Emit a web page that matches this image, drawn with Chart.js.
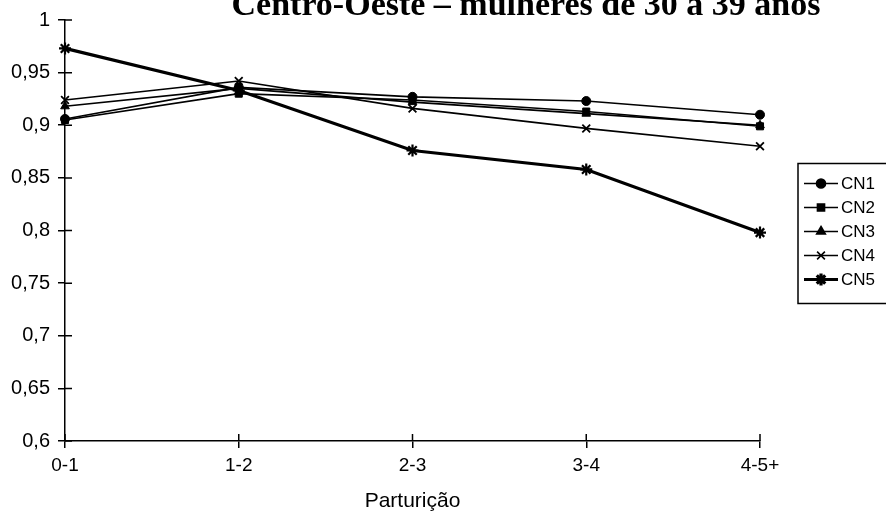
<!DOCTYPE html>
<html>
<head>
<meta charset="utf-8">
<script src="https://cdn.jsdelivr.net/npm/chart.js@4.4.1/dist/chart.umd.min.js"></script>
<style>
  html, body { margin: 0; padding: 0; background: #fff; }
  canvas { display: block; }
</style>
</head>
<body>
<canvas id="c" width="886" height="514"></canvas>
<script>
// Categories (parity groups) and the series values
const categories = ['0-1', '1-2', '2-3', '3-4', '4-5+'];
const seriesNames = ['CN1', 'CN2', 'CN3', 'CN4', 'CN5'];
const cn1 = [0.906, 0.936, 0.927, 0.923, 0.910];
const cn2 = [0.905, 0.930, 0.924, 0.913, 0.899];
const cn3 = [0.918, 0.935, 0.922, 0.911, 0.900];
const cn4 = [0.924, 0.942, 0.916, 0.897, 0.880];
const cn5 = [0.973, 0.933, 0.876, 0.858, 0.798];
const yMin = 0.6;
const yMax = 1;
const yStep = 0.05;
const chartTitle = 'Centro-Oeste – mulheres de 30 a 39 anos';
const xAxisTitle = 'Parturição';

const seriesValues = [cn1, cn2, cn3, cn4, cn5];
const markers = ['circle', 'rect', 'triangle', 'crossRot', 'star'];
const markerSize = [4.5, 5, 5, 5.5, 6];
const lineWidths = [1.6, 1.6, 1.6, 1.6, 3.2];
const markerBorder = [1, 1, 1, 1.8, 2.2];

const sansFont = "'Liberation Sans', Arial, sans-serif";

const datasets = seriesNames.map((name, i) => ({
  label: name,
  data: seriesValues[i],
  borderColor: '#000',
  backgroundColor: '#000',
  borderWidth: lineWidths[i],
  pointStyle: markers[i],
  pointRadius: markerSize[i],
  pointBorderWidth: markerBorder[i],
  pointBackgroundColor: '#000',
  pointBorderColor: '#000',
  tension: 0,
  fill: false
}));

// Tick marks that cross the axis lines (the inner half)
const crossTicks = {
  id: 'crossTicks',
  afterDraw(chart) {
    const { ctx, scales: { x, y } } = chart;
    ctx.save();
    ctx.strokeStyle = '#000';
    ctx.lineWidth = 1.5;
    ctx.beginPath();
    y.ticks.forEach((t, i) => {
      const py = y.getPixelForTick(i);
      ctx.moveTo(y.right, py);
      ctx.lineTo(y.right + 7, py);
    });
    x.ticks.forEach((t, i) => {
      const px = x.getPixelForTick(i);
      ctx.moveTo(px, x.top);
      ctx.lineTo(px, x.top - 7);
    });
    ctx.stroke();
    ctx.restore();
  }
};

// Serif title along the top edge
const topTitle = {
  id: 'topTitle',
  afterDraw(chart) {
    const ctx = chart.ctx;
    ctx.save();
    ctx.fillStyle = '#000';
    ctx.font = "bold 34px 'Liberation Serif', 'Times New Roman', serif";
    ctx.textAlign = 'center';
    ctx.textBaseline = 'alphabetic';
    ctx.fillText(chartTitle, 526, 15);
    ctx.restore();
  }
};

// Boxed legend at the right of the plot
const boxLegend = {
  id: 'boxLegend',
  afterDraw(chart) {
    const { ctx, chartArea } = chart;
    const rowH = 24;
    const boxH = rowH * seriesNames.length + 20;
    const left = chartArea.right + 38;
    const top = (chartArea.top + chartArea.bottom) / 2 - boxH / 2 + 3;
    ctx.save();
    ctx.strokeStyle = '#000';
    ctx.lineWidth = 1.5;
    ctx.strokeRect(left, top, 120, boxH);
    chart.data.datasets.forEach((ds, i) => {
      const cy = top + 20 + rowH * i;
      ctx.beginPath();
      ctx.lineWidth = ds.borderWidth;
      ctx.moveTo(left + 6, cy);
      ctx.lineTo(left + 40, cy);
      ctx.stroke();
      Chart.helpers.drawPoint(ctx, {
        pointStyle: ds.pointStyle,
        radius: ds.pointRadius,
        rotation: 0,
        borderWidth: ds.pointBorderWidth
      }, left + 23, cy);
      ctx.fillStyle = '#000';
      ctx.font = '17px ' + sansFont;
      ctx.textAlign = 'left';
      ctx.textBaseline = 'middle';
      ctx.fillText(ds.label, left + 43, cy + 1);
    });
    ctx.restore();
  }
};

new Chart(document.getElementById('c'), {
  type: 'line',
  data: { labels: categories, datasets },
  options: {
    responsive: false,
    devicePixelRatio: 1,
    animation: false,
    events: [],
    layout: { padding: { left: 0, right: 126, top: 20, bottom: 0 } },
    plugins: {
      legend: { display: false },
      title: { display: false },
      tooltip: { enabled: false }
    },
    scales: {
      x: {
        type: 'category',
        offset: false,
        grid: { display: true, drawOnChartArea: false, drawTicks: true, tickLength: 7, color: '#000', lineWidth: 1.5 },
        border: { display: true, color: '#000', width: 1.5 },
        ticks: { color: '#000', font: { family: sansFont, size: 19 }, padding: 6, maxRotation: 0, autoSkip: false },
        title: { display: true, text: xAxisTitle, color: '#000', font: { family: sansFont, size: 21 }, padding: { top: 0, bottom: 0 } },
        afterFit(scale) { scale.height = 73; }
      },
      y: {
        min: yMin,
        max: yMax,
        grid: { display: true, drawOnChartArea: false, drawTicks: true, tickLength: 7, color: '#000', lineWidth: 1.5 },
        border: { display: true, color: '#000', width: 1.5 },
        ticks: {
          stepSize: yStep,
          color: '#000',
          font: { family: sansFont, size: 20 },
          padding: 8,
          callback: (v) => String(Number(v.toFixed(2))).replace('.', ',')
        },
        afterFit(scale) { scale.width = 65; }
      }
    }
  },
  plugins: [crossTicks, topTitle, boxLegend]
});
</script>
</body>
</html>
